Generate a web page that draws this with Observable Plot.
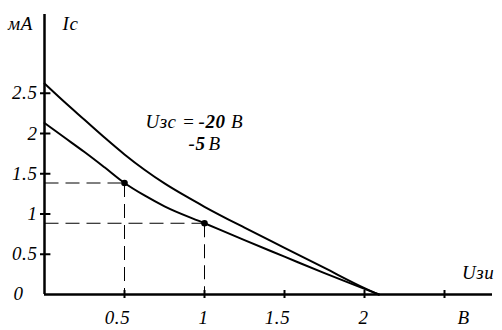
<!DOCTYPE html>
<html>
<head>
<meta charset="utf-8">
<script src="https://cdn.jsdelivr.net/npm/d3@7"></script>
<script src="https://cdn.jsdelivr.net/npm/@observablehq/plot@0.6"></script>
<style>
  html, body { margin: 0; padding: 0; background: #fff; }
  svg { display: block; }
  svg text { font-family: "Liberation Serif", "Times New Roman", Times, serif !important; letter-spacing: 0.6px; }
</style>
</head>
<body>
<div id="chart"></div>
<script>
// Series: Uзс = -20 В (upper) and Uзс = -5 В (lower)
const upperX = [0, 0.125, 0.25, 0.375, 0.5, 0.625, 0.75, 0.875, 1.0, 1.25, 1.5, 1.75, 2.0, 2.09];
const upperY = [2.62, 2.39, 2.17, 1.95, 1.74, 1.55, 1.38, 1.23, 1.09, 0.83, 0.58, 0.33, 0.08, 0];
const lowerX = [0, 0.125, 0.25, 0.375, 0.5, 0.625, 0.75, 1.0, 1.25, 1.5, 1.75, 2.0, 2.09];
const lowerY = [2.13, 1.95, 1.77, 1.58, 1.385, 1.23, 1.095, 0.885, 0.675, 0.47, 0.265, 0.07, 0];
// Marked operating points
const markX = [0.5, 1.0];
const markY = [1.385, 0.885];
// Ticks
const xTicks = [0.5, 1, 1.5, 2, 2.5];
const xTickLabels = ["0.5", "1", "1.5", "2"];
const yTicks = [0.5, 1, 1.5, 2, 2.5];
const yTickLabels = ["0.5", "1", "1.5", "2", "2.5"];

const upper = upperX.map((x, i) => ({x, y: upperY[i]}));
const lower = lowerX.map((x, i) => ({x, y: lowerY[i]}));
const marks = markX.map((x, i) => ({x, y: markY[i]}));
const xLab = xTickLabels.map((t, i) => ({x: xTicks[i], t}));
const yLab = yTickLabels.map((t, i) => ({y: yTicks[i], t}));
const font = "Liberation Serif";
const XMAX = 2.8, YMAX = 280 / 80.5;
const FS = 19;
const T = {fontFamily: font, fontSize: FS, fontStyle: "italic", fill: "#000"};

const chart = Plot.plot({
  width: 502,
  height: 330,
  marginLeft: 44,
  marginRight: 10,
  marginTop: 14,
  marginBottom: 36,
  x: {domain: [0, XMAX], axis: null},
  y: {domain: [0, YMAX], axis: null},
  style: {background: "#fff"},
  marks: [
    // dashed guide lines
    Plot.link(marks, {x1: 0, x2: "x", y1: "y", y2: "y", stroke: "#000", strokeWidth: 1, strokeDasharray: "14,7"}),
    Plot.link(marks, {x1: "x", x2: "x", y1: "y", y2: 0, stroke: "#000", strokeWidth: 1, strokeDasharray: "14,7"}),
    // axes
    Plot.ruleX([0], {y1: 0, y2: YMAX, stroke: "#000", strokeWidth: 2.5}),
    Plot.ruleY([0], {x1: 0, x2: XMAX, stroke: "#000", strokeWidth: 2.5}),
    Plot.ruleY(yTicks, {y: d => d, x1: -0.025, x2: 0.04, stroke: "#000", strokeWidth: 2}),
    Plot.ruleX(xTicks, {x: d => d, y1: -0.05, y2: 0.05, stroke: "#000", strokeWidth: 2}),
    // curves
    Plot.line(upper, {x: "x", y: "y", curve: "monotone-x", stroke: "#000", strokeWidth: 2}),
    Plot.line(lower, {x: "x", y: "y", curve: "monotone-x", stroke: "#000", strokeWidth: 2}),
    Plot.dot(marks, {x: "x", y: "y", r: 3.3, fill: "#000"}),
    // tick labels
    Plot.text(yLab, {x: 0, y: "y", text: "t", dx: -7, textAnchor: "end", ...T}),
    Plot.text(["0"], {x: 0, y: 0, text: d => d, dx: -26, dy: -1, ...T}),
    Plot.text(xLab.filter(d => d.t.includes(".")), {x: "x", y: 0, text: "t", dy: 23, dx: -7, ...T}),
    Plot.text(xLab.filter(d => !d.t.includes(".")), {x: "x", y: 0, text: "t", dy: 23, dx: -1, ...T}),
    Plot.text(["В"], {x: 2.62, y: 0, text: d => d, dy: 23, ...T}),
    // axis titles
    Plot.text(["мА"], {x: 0, y: YMAX, text: d => d, dx: -24, dy: 9, ...T}),
    Plot.text(["Ic"], {x: 0, y: YMAX, text: d => d, dx: 26, dy: 9, ...T}),
    Plot.text(["Uзи"], {x: 2.71, y: 0, text: d => d, dy: -22, ...T}),
    // series annotation
    Plot.text(["Uзс ="], {x: 0.631, y: 0, text: d => d, dy: -173, textAnchor: "start", ...T}),
    Plot.text(["-20"], {x: 0.9625, y: 0, text: d => d, dy: -173, textAnchor: "start", ...T, fontWeight: "bold"}),
    Plot.text(["В"], {x: 1.165, y: 0, text: d => d, dy: -173, textAnchor: "start", ...T}),
    Plot.text(["-5"], {x: 0.9, y: 0, text: d => d, dy: -151, textAnchor: "start", ...T, fontWeight: "bold"}),
    Plot.text(["В"], {x: 1.025, y: 0, text: d => d, dy: -151, textAnchor: "start", ...T})
  ]
});
document.getElementById("chart").appendChild(chart);
</script>
</body>
</html>
